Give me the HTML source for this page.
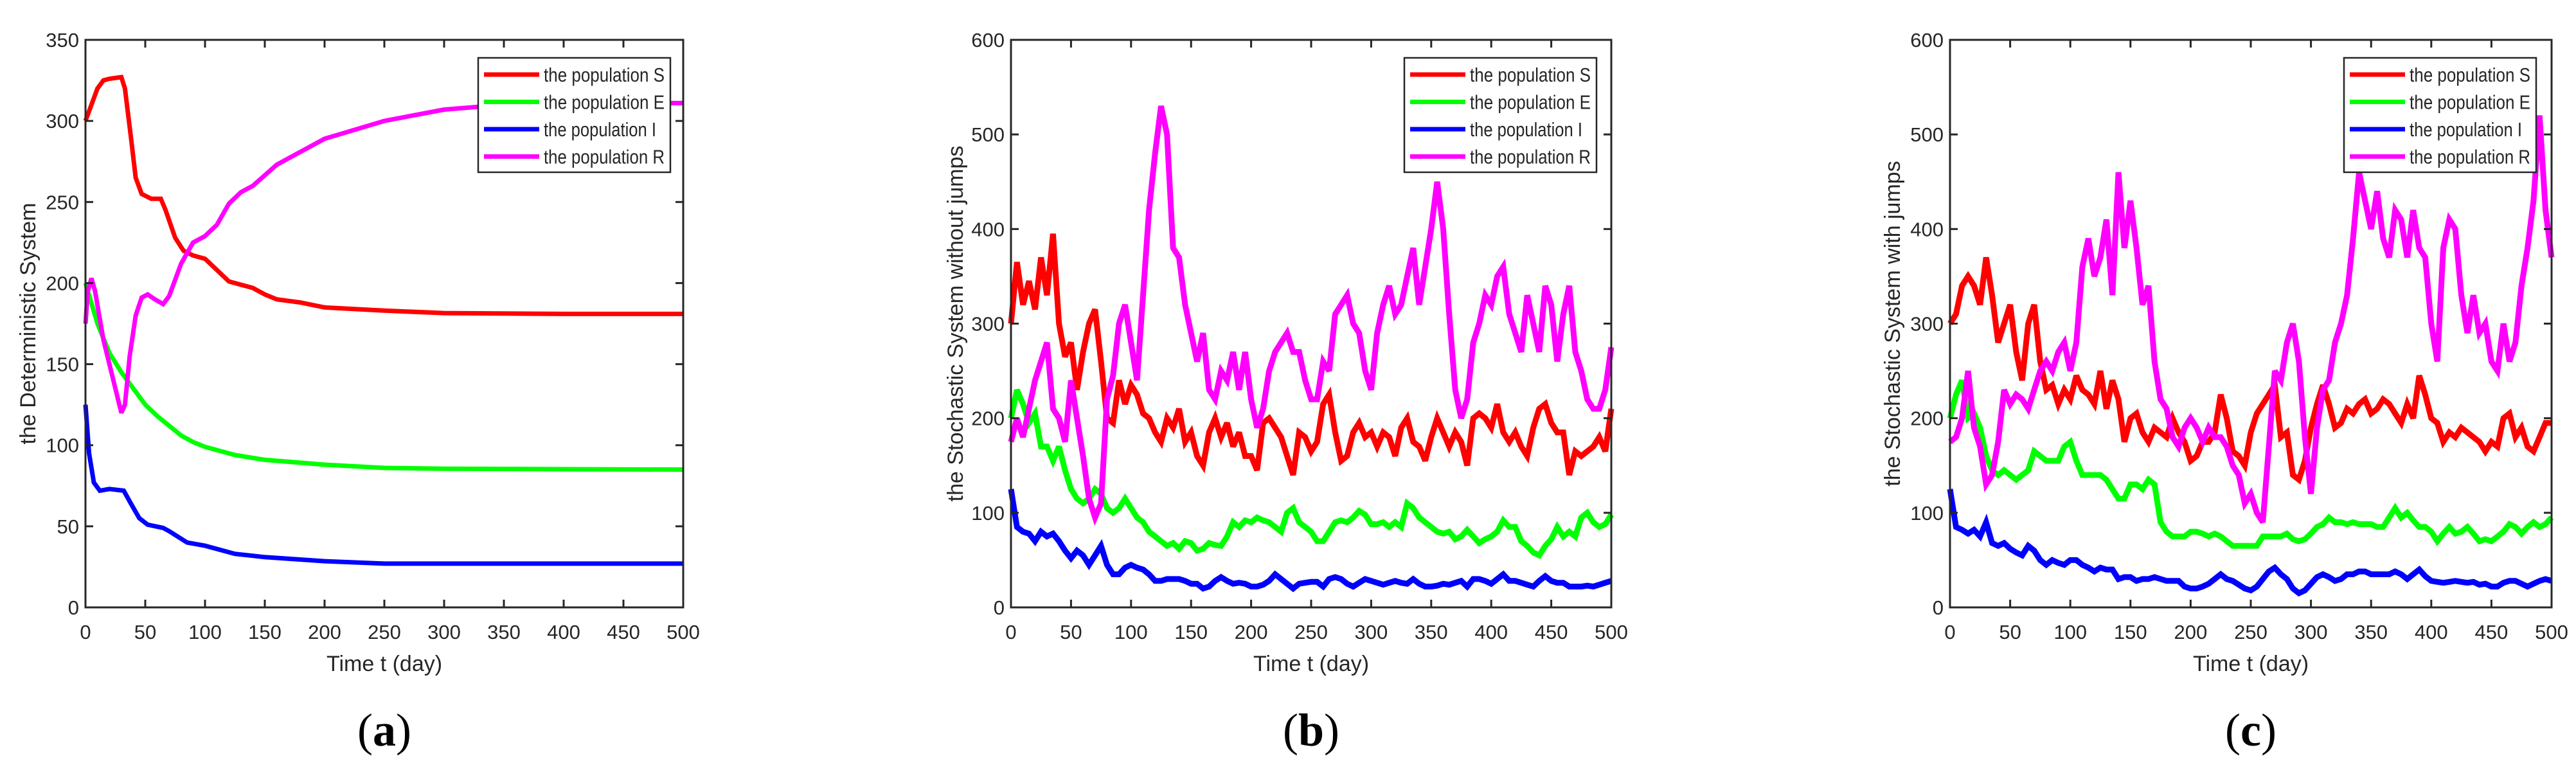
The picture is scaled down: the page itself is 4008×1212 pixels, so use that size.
<!DOCTYPE html>
<html><head><meta charset="utf-8"><style>
html,body{margin:0;padding:0;background:#fff}
svg{display:block}
text{font-family:"Liberation Sans",sans-serif;fill:#262626}
</style></head><body>
<svg id="fig" width="4008" height="1212" viewBox="0 0 4008 1212" xmlns="http://www.w3.org/2000/svg"></svg>
<script>
// ---------- data ----------
const xTicks = [0,50,100,150,200,250,300,350,400,450,500];
const yTicksA = [0,50,100,150,200,250,300,350];
const yTicksBC = [0,100,200,300,400,500,600];
const seriesNames = ["the population S","the population E","the population I","the population R"];
const seriesColors = ["#ff0000","#00ff00","#0000ff","#ff00ff"];

// deterministic (panel a): [t, value] pairs
const detS = [[0,300],[5,310],[10,320],[15,325],[20,326],[30,327],[33,320],[38,290],[42,265],[47,255],[55,252],[63,252],[67,245],[75,228],[82,220],[90,217],[100,215],[110,208],[120,201],[130,199],[140,197],[150,193],[160,190],[180,188],[200,185],[250,183],[300,181.5],[400,181],[500,181]];
const detE = [[0,200],[10,175],[20,157],[30,145],[40,135],[50,125],[60,118],[70,112],[80,106],[90,102],[100,99],[125,94],[150,91],[200,88],[250,86],[300,85.5],[500,85]];
const detI = [[0,125],[3,95],[7,77],[12,72],[20,73],[32,72],[38,64],[45,55],[52,51],[65,49],[70,47],[85,40],[100,38],[125,33],[150,31],[200,28.5],[250,27],[500,27]];
const detR = [[0,175],[2,195],[5,203],[8,195],[15,165],[25,135],[30,120],[33,125],[37,155],[42,180],[47,191],[52,193],[58,190],[65,187],[70,192],[80,212],[90,225],[100,229],[110,236],[120,249],[130,256],[140,260],[160,273],[180,281],[200,289],[250,300],[300,307],[350,310],[400,311],[500,311]];

// stochastic samples every 5 days, t = 0..500
const stepT = 5;
const bS = [300,365,320,345,315,370,330,395,300,265,280,230,270,300,315,260,200,195,240,215,235,225,205,200,185,175,200,190,210,175,185,160,150,185,200,180,195,170,185,160,160,145,195,200,190,180,160,140,185,180,165,175,215,225,185,155,160,185,195,180,185,170,185,180,160,190,200,175,170,155,180,200,185,170,185,175,150,200,205,200,190,215,185,175,185,170,160,190,210,215,195,185,185,140,165,160,165,170,180,165,210];
const bE = [200,230,215,195,205,170,170,155,170,145,125,115,110,115,125,120,105,100,105,115,105,95,90,80,75,70,65,68,62,70,68,60,62,68,66,65,75,90,85,92,90,95,92,90,85,80,100,105,90,85,80,70,70,80,90,92,90,95,102,98,88,88,90,85,90,85,110,105,95,90,85,80,78,80,72,75,82,75,68,72,75,80,92,85,85,70,65,58,55,65,72,85,75,80,75,95,100,90,85,88,98];
const bI = [125,85,80,78,70,80,75,78,70,60,52,60,55,45,55,65,45,35,35,42,45,42,40,35,28,28,30,30,30,28,25,25,20,22,28,32,28,25,26,25,22,22,24,28,35,30,25,20,25,26,27,27,22,30,32,30,25,22,26,30,28,26,24,26,28,26,25,30,25,22,22,23,25,24,26,28,22,30,30,28,25,30,35,28,28,26,24,22,28,33,28,26,26,22,22,22,23,22,24,26,28];
const bR = [175,200,180,210,240,260,280,210,200,175,240,200,160,115,95,110,220,245,300,320,280,240,330,420,480,530,500,380,370,320,290,260,290,230,220,250,240,270,230,270,220,190,210,250,270,280,290,270,270,240,220,220,260,250,310,320,330,300,290,250,230,290,320,340,310,320,350,380,320,360,400,450,400,310,230,200,220,280,300,330,320,350,360,310,290,270,330,300,270,340,320,260,310,340,270,250,220,210,210,230,275];
const cS = [300,310,340,350,340,320,370,330,280,300,320,270,240,300,320,260,230,235,215,230,220,245,230,225,215,250,210,240,220,175,200,205,185,175,190,185,180,200,185,175,155,160,175,175,185,225,200,165,160,150,185,205,215,225,235,180,185,140,135,155,190,215,235,215,190,195,210,205,215,220,205,210,220,215,205,195,215,200,245,225,200,195,175,185,180,190,185,180,175,165,175,170,200,205,180,190,170,165,180,195,195];
const cE = [200,225,240,200,205,190,160,145,140,145,140,135,140,145,165,160,155,155,155,170,175,155,140,140,140,140,135,125,115,115,130,130,125,135,130,90,80,75,75,75,80,80,78,75,78,75,70,65,65,65,65,65,75,75,75,75,78,72,70,72,78,85,88,95,90,90,88,90,88,88,88,85,85,95,105,95,100,92,85,85,80,70,78,85,78,80,85,78,70,72,70,75,80,88,85,78,85,90,85,88,95];
const cI = [125,85,82,78,82,75,90,68,65,68,62,58,55,65,60,50,45,50,47,45,50,50,45,42,38,42,40,40,30,32,32,28,30,30,32,30,28,28,28,22,20,20,22,25,30,35,30,28,24,20,18,22,30,38,42,35,30,20,15,18,25,32,35,32,28,30,35,35,38,38,35,35,35,35,38,35,30,35,40,33,28,27,26,27,28,27,26,27,24,25,22,22,26,28,28,25,22,25,28,30,28];
const cR = [175,180,200,250,190,170,130,140,175,230,215,225,220,210,230,250,260,250,270,280,250,280,360,390,350,370,410,330,460,380,430,380,320,340,260,220,210,180,170,190,200,190,175,190,180,180,170,150,140,110,120,100,90,170,250,240,280,300,260,180,120,190,230,240,280,300,330,390,460,430,400,440,390,370,420,410,370,420,380,370,300,260,380,410,400,330,290,330,290,300,260,250,300,260,280,340,380,430,520,420,370];

// ---------- layout ----------
const NS = "http://www.w3.org/2000/svg";
const svg = document.getElementById("fig");
function mk(tag, attrs, parent){
  const e = document.createElementNS(NS, tag);
  for (const k in attrs) e.setAttribute(k, attrs[k]);
  (parent||svg).appendChild(e);
  return e;
}
const TOP = 62, BOT = 945;
const panels = [
  {id:"a", left:133, right:1063, ymax:350, yTicks:yTicksA, ylabel:"the Deterministic System", ylabX:43, cap:"a",
   legend:{x:744,w:299}, series:[detS,detE,detI,detR], det:true},
  {id:"b", left:1573, right:2507, ymax:600, yTicks:yTicksBC, ylabel:"the Stochastic System without jumps", ylabX:1486, cap:"b",
   legend:{x:2185,w:299}, series:[bS,bE,bI,bR], det:false},
  {id:"c", left:3034, right:3970, ymax:600, yTicks:yTicksBC, ylabel:"the Stochastic System with jumps", ylabX:2944, cap:"c",
   legend:{x:3647,w:299}, series:[cS,cE,cI,cR], det:false}
];

panels.forEach(p=>{
  const g = mk("g", {});
  
  
  const xs = t => p.left + (t/500)*(p.right-p.left);
  const ys = v => BOT - (v/p.ymax)*(BOT-TOP);

  p.series.forEach((s,i)=>{
    let pts;
    if (p.det) pts = s.map(d=>xs(d[0]).toFixed(1)+","+ys(d[1]).toFixed(1));
    else pts = s.map((v,k)=>xs(k*stepT).toFixed(1)+","+ys(v).toFixed(1));
    const pl = mk("polyline", {points:pts.join(" "), fill:"none", stroke:seriesColors[i], "stroke-width":p.det?7:9, "stroke-linejoin":"miter", "stroke-miterlimit":3, "stroke-linecap":"butt"}, g);
    
    
  });

  const box = mk("rect", {x:p.left, y:TOP, width:p.right-p.left, height:BOT-TOP, fill:"none", stroke:"#262626", "stroke-width":3}, g);
  
  

  xTicks.forEach(t=>{
    const x = xs(t);
    mk("line", {x1:x, y1:BOT, x2:x, y2:BOT-12, stroke:"#262626", "stroke-width":3}, g);
    mk("line", {x1:x, y1:TOP, x2:x, y2:TOP+12, stroke:"#262626", "stroke-width":3}, g);
    const tx = mk("text", {x:x, y:994, "font-size":31, "text-anchor":"middle"}, g);
    tx.textContent = t;
    
    
  });
  p.yTicks.forEach(v=>{
    const y = ys(v);
    mk("line", {x1:p.left, y1:y, x2:p.left+12, y2:y, stroke:"#262626", "stroke-width":3}, g);
    mk("line", {x1:p.right, y1:y, x2:p.right-12, y2:y, stroke:"#262626", "stroke-width":3}, g);
    const ty = mk("text", {x:p.left-10, y:y+11, "font-size":31, "text-anchor":"end"}, g);
    ty.textContent = v;
    
    
  });

  const xt = mk("text", {x:(p.left+p.right)/2, y:1044, "font-size":34, "text-anchor":"middle"}, g);
  xt.textContent = "Time t (day)";
  
  
  const yc = (TOP+BOT)/2;
  const yt = mk("text", {x:p.ylabX, y:yc, "font-size":34, "text-anchor":"middle", transform:`rotate(-90 ${p.ylabX} ${yc}) translate(0 12)`}, g);
  yt.textContent = p.ylabel;
  
  

  const lg = mk("g", {}, g);
  
  
  mk("rect", {x:p.legend.x, y:90, width:p.legend.w, height:178, fill:"#fff", stroke:"#262626", "stroke-width":2.5}, lg);
  seriesNames.forEach((n,i)=>{
    const ly = 116 + i*42.5;
    const ent = mk("g", {}, lg);
    
    
    mk("line", {x1:p.legend.x+9, y1:ly, x2:p.legend.x+95, y2:ly, stroke:seriesColors[i], "stroke-width":7}, ent);
    const t = mk("text", {x:p.legend.x+102, y:ly+11, "font-size":31, textLength: i==2?175:188, lengthAdjust:"spacingAndGlyphs"}, ent);
    t.textContent = n;
  });

  const cx = (p.left+p.right)/2;
  const cap = mk("text", {x:cx, y:1160, "font-size":72, "text-anchor":"middle", style:'font-family:"Liberation Serif",serif;fill:#000'}, g);
  cap.innerHTML = '(<tspan font-weight="bold">' + p.cap + '</tspan>)';
  
  
});
</script>
</body></html>
